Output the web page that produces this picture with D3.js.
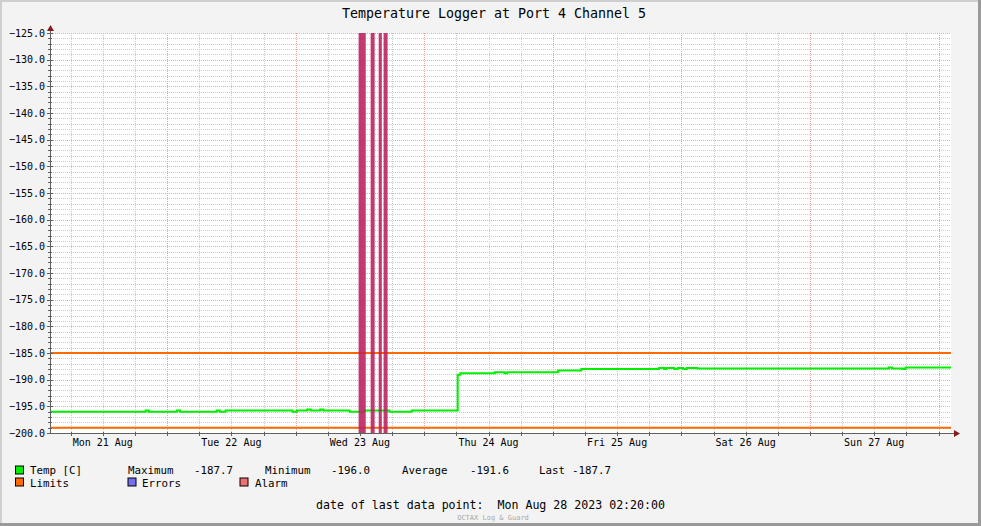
<!DOCTYPE html>
<html><head><meta charset="utf-8">
<script src="https://cdn.jsdelivr.net/npm/d3@7"></script>
<style>
html,body{margin:0;padding:0;background:#f3f3f3;}
svg{display:block;font-family:"DejaVu Sans Mono",monospace;}
text{white-space:pre;}
</style></head>
<body><svg id="c" width="981" height="526"></svg>
<script>
// ---- data ----
const title = "Temperature Logger at Port 4 Channel 5";
const tempTimes = [
 "2023-08-21 02:20","2023-08-21 20:00","2023-08-21 20:35","2023-08-22 01:50","2023-08-22 02:25",
 "2023-08-22 09:15","2023-08-22 09:50","2023-08-22 10:55","2023-08-22 23:25","2023-08-23 00:15",
 "2023-08-23 02:10","2023-08-23 02:50","2023-08-23 04:35","2023-08-23 05:10","2023-08-23 10:05",
 "2023-08-23 12:50","2023-08-23 17:30","2023-08-23 21:40","2023-08-24 06:15","2023-08-24 06:45",
 "2023-08-24 13:10","2023-08-24 15:00","2023-08-24 15:30","2023-08-25 01:00","2023-08-25 05:20",
 "2023-08-25 19:50","2023-08-25 20:45","2023-08-25 21:10","2023-08-25 22:40","2023-08-25 23:20",
 "2023-08-26 00:20","2023-08-26 01:00","2023-08-26 03:00","2023-08-27 14:45","2023-08-27 15:20",
 "2023-08-27 17:15","2023-08-27 17:50","2023-08-28 02:20"];
const tempValues = [
 -196.0,-195.8,-196.0,-195.8,-196.0,
 -195.8,-196.0,-195.8,-196.0,-195.8,
 -195.6,-195.8,-195.6,-195.8,-196.0,
 -195.8,-196.0,-195.8,-189.1,-188.8,
 -188.6,-188.8,-188.6,-188.3,-188.0,
 -187.8,-188.0,-187.8,-188.0,-187.8,
 -188.0,-187.8,-187.9,-187.7,-187.9,
 -188.0,-187.7,-187.7];
const alarmStarts = ["2023-08-23 11:45","2023-08-23 14:00","2023-08-23 15:30","2023-08-23 16:25"];
const alarmEnds   = ["2023-08-23 13:05","2023-08-23 14:45","2023-08-23 16:05","2023-08-23 17:10"];
const limitValues = [-185.0, -199.0];
const timeStart = "2023-08-21 02:20", timeEnd = "2023-08-28 02:20";
const yTickValues = [-125,-130,-135,-140,-145,-150,-155,-160,-165,-170,-175,-180,-185,-190,-195,-200];
const xTickTimes = ["2023-08-21 12:00","2023-08-22 12:00","2023-08-23 12:00","2023-08-24 12:00","2023-08-25 12:00","2023-08-26 12:00","2023-08-27 12:00"];
const xTickLabels = ["Mon 21 Aug","Tue 22 Aug","Wed 23 Aug","Thu 24 Aug","Fri 25 Aug","Sat 26 Aug","Sun 27 Aug"];
const statLabels = ["Maximum","Minimum","Average","Last"];
const statValues = ["-187.7","-196.0","-191.6","-187.7"];
const legendNames = ["Temp [C]","Limits","Errors","Alarm"];
const legendColors = ["#00ee00","#ff6a00","#7070f0","#f07070"];
const lastDate = "Mon Aug 28 2023 02:20:00";

// ---- drawing ----
const parse = d3.timeParse("%Y-%m-%d %H:%M");
const svg = d3.select("#c");
const W=981,H=526;
const L=51,R=951,T=33,B=433;
const x = d3.scaleTime().domain([parse(timeStart),parse(timeEnd)]).range([L,R]);
const y = d3.scaleLinear().domain([-200,-125]).range([B,T]);
const px = v => Math.round(v)+0.5;

svg.append("rect").attr("width",W).attr("height",H).attr("fill","#f3f3f3");
// 3D border
svg.append("rect").attr("x",0).attr("y",0).attr("width",W).attr("height",2).attr("fill","#cfcfcf");
svg.append("rect").attr("x",0).attr("y",0).attr("width",2).attr("height",H).attr("fill","#cfcfcf");
svg.append("rect").attr("x",W-3).attr("y",0).attr("width",3).attr("height",H).attr("fill","#9a9a9a");
svg.append("rect").attr("x",0).attr("y",H-3).attr("width",W).attr("height",3).attr("fill","#9a9a9a");

svg.append("rect").attr("x",L).attr("y",T).attr("width",R-L).attr("height",B-T).attr("fill","#ffffff");

const g = svg.append("g");
// horizontal grid
const yMinor = d3.range(-199,-125,1).filter(v=>v%5!==0);
g.selectAll(".hm").data(yMinor).join("line")
 .attr("x1",L).attr("x2",R).attr("y1",d=>px(y(d))).attr("y2",d=>px(y(d)))
 .attr("stroke","#cccccc").attr("stroke-dasharray","1,1");
const xAll = d3.timeHour.every(6).range(parse(timeStart), parse(timeEnd));
const xMinor = xAll.filter(d=>d.getHours()!==0);
const xMajor = xAll.filter(d=>d.getHours()===0);
g.selectAll(".vm").data(xMinor).join("line")
 .attr("x1",d=>px(x(d))).attr("x2",d=>px(x(d))).attr("y1",T).attr("y2",B)
 .attr("stroke","#cccccc").attr("stroke-dasharray","1,1");
g.selectAll(".hM").data(yTickValues.filter(v=>v>-200)).join("line")
 .attr("x1",L).attr("x2",R).attr("y1",d=>px(y(d))).attr("y2",d=>px(y(d)))
 .attr("stroke","#e8a8a8").attr("stroke-dasharray","1,1");
g.selectAll(".vM").data(xMajor).join("line")
 .attr("x1",d=>px(x(d))).attr("x2",d=>px(x(d))).attr("y1",T).attr("y2",B)
 .attr("stroke","#e8a8a8").attr("stroke-dasharray","1,1");

// limits
svg.selectAll(".lim").data(limitValues).join("line")
 .attr("x1",L).attr("x2",R).attr("y1",d=>y(d)).attr("y2",d=>y(d))
 .attr("stroke","#ff6a00").attr("stroke-width",2);

// temp line
const tempData = tempTimes.map((t,i)=>({t:parse(t),v:tempValues[i]}));
svg.append("path").datum(tempData)
 .attr("d",d3.line().x(d=>x(d.t)).y(d=>y(d.v)).curve(d3.curveStepAfter))
 .attr("fill","none").attr("stroke","#00f000").attr("stroke-width",2);

// alarm bars
svg.selectAll(".al").data(alarmStarts.map((s,i)=>({s:parse(s),e:parse(alarmEnds[i])}))).join("rect")
 .attr("x",d=>x(d.s)).attr("width",d=>x(d.e)-x(d.s)).attr("y",T).attr("height",B-T)
 .attr("fill","#bb1f5f").attr("fill-opacity",0.88);

// axes
const axC="#606060";
svg.append("line").attr("x1",L-0.5).attr("x2",L-0.5).attr("y1",B).attr("y2",T-3).attr("stroke",axC);
svg.append("line").attr("x1",L-2).attr("x2",R+4).attr("y1",B+0.5).attr("y2",B+0.5).attr("stroke",axC);
svg.append("path").attr("d",`M${L-4},${T-2}L${L+3},${T-2}L${L-0.5},${T-8}Z`).attr("fill","#8b1a1a");
svg.append("path").attr("d",`M${R+3},${B-3}L${R+3},${B+4}L${R+9},${B+0.5}Z`).attr("fill","#8b1a1a");
// y ticks
svg.selectAll(".ytm").data(d3.range(-199,-125,1)).join("line")
 .attr("x1",L-3).attr("x2",L+1).attr("y1",d=>px(y(d))).attr("y2",d=>px(y(d))).attr("stroke",axC);
svg.selectAll(".ytM").data(yTickValues).join("line")
 .attr("x1",L-4).attr("x2",L+2).attr("y1",d=>px(y(d))).attr("y2",d=>px(y(d))).attr("stroke",axC);
svg.selectAll(".xtm").data(xAll).join("line")
 .attr("x1",d=>px(x(d))).attr("x2",d=>px(x(d))).attr("y1",B-1).attr("y2",B+3).attr("stroke",axC);

// y labels
svg.selectAll(".yl").data(yTickValues).join("text")
 .attr("x",45).attr("y",d=>y(d)+3.5).attr("text-anchor","end")
 .attr("font-size","10px").attr("fill","#000").text(d=>d3.format(".1f")(d));
// x labels
svg.selectAll(".xl").data(xTickTimes).join("text")
 .attr("x",d=>x(parse(d))).attr("y",446).attr("text-anchor","middle")
 .attr("font-size","10px").attr("fill","#000").text((d,i)=>xTickLabels[i]);

// title
svg.append("text").attr("x",494).attr("y",18).attr("text-anchor","middle")
 .attr("font-size","13.3px").attr("fill","#000").text(title);

// legend
const lf="10.8px";
const sq=(xx,yy,c)=>svg.append("rect").attr("x",xx+0.5).attr("y",yy+0.5).attr("width",8).attr("height",8)
 .attr("fill",c).attr("stroke","#000").attr("stroke-width",1);
const tx=(xx,yy,s,fs)=>svg.append("text").attr("x",xx).attr("y",yy).attr("font-size",fs||lf).attr("fill","#000").text(s);
sq(15,465.5,legendColors[0]); tx(30,473.5,legendNames[0]);
const statX=[128,265,402,539], valX=[194,331,470,572];
statLabels.forEach((s,i)=>{tx(statX[i],473.5,s); tx(valX[i],473.5,statValues[i]);});
sq(15,477.5,legendColors[1]); tx(30,486.5,legendNames[1]);
sq(127.5,477.5,legendColors[2]); tx(142,486.5,legendNames[2]);
sq(239.5,477.5,legendColors[3]); tx(255,486.5,legendNames[3]);

tx(316,508.5,"date of last data point:  "+lastDate,"11.6px");
svg.append("text").attr("x",493).attr("y",519.5).attr("text-anchor","middle")
 .attr("font-size","7px").attr("fill","#a8a8a8").text("OCTAX Log & Guard");
</script></body></html>
